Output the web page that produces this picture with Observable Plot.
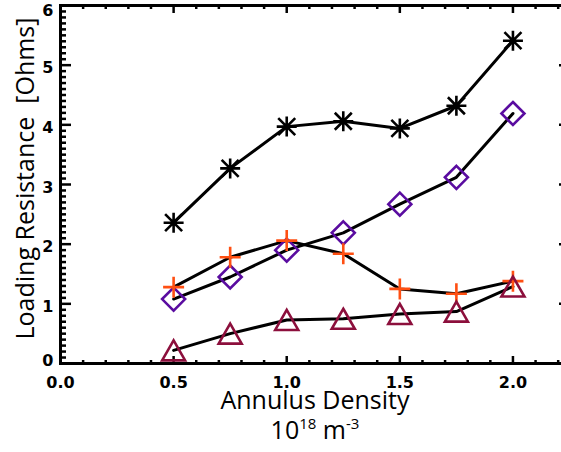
<!DOCTYPE html>
<html><head><meta charset="utf-8">
<script src="https://cdn.jsdelivr.net/npm/d3@7"></script>
<script src="https://cdn.jsdelivr.net/npm/@observablehq/plot@0.6"></script>
<style>html,body{margin:0;padding:0;background:#fff;overflow:hidden}</style>
</head><body><div id="chart"></div>
<script>
// ---- data ----
const density = [0.5, 0.75, 1.0, 1.25, 1.5, 1.75, 2.0];
const starVals     = [2.36, 3.27, 3.97, 4.06, 3.94, 4.32, 5.41];
const diamondVals  = [1.08, 1.45, 1.90, 2.19, 2.67, 3.12, 4.19];
const crossVals    = [1.28, 1.78, 2.06, 1.84, 1.25, 1.17, 1.38];
const triangleVals = [0.22, 0.50, 0.73, 0.75, 0.83, 0.87, 1.29];
const xMajor = [0, 0.5, 1.0, 1.5, 2.0];
const xMinor = [0.1,0.2,0.3,0.4,0.6,0.7,0.8,0.9,1.1,1.2,1.3,1.4,1.6,1.7,1.8,1.9,2.1,2.2];
const yMajor = [0, 1, 2, 3, 4, 5, 6];
const yMinor = d3.range(0, 60).filter(i => i % 10 !== 0).map(i => i / 10);
const xTitle = "Annulus Density";
const unitParts = ["10", "18", " m", "-3"];
const yTitle = "Loading Resistance  [Ohms]";

const rows = density.map((x, i) => ({x, star: starVals[i], diamond: diamondVals[i], cross: crossVals[i], tri: triangleVals[i]}));

// ---- custom IDL-like symbols ----
const sym = fn => ({draw(c, size) { fn(c, Math.sqrt(size / Math.PI)); }});
const asterisk = sym((c, r) => {
  c.moveTo(-r, 0); c.lineTo(r, 0); c.moveTo(0, -r); c.lineTo(0, r);
  const d = r * 0.85;
  c.moveTo(-d, -d); c.lineTo(d, d); c.moveTo(-d, d); c.lineTo(d, -d);
});
const plus = sym((c, r) => { c.moveTo(-r, 0); c.lineTo(r, 0); c.moveTo(0, -r); c.lineTo(0, r); });
const diamond = sym((c, r) => { c.moveTo(0, -r); c.lineTo(r, 0); c.lineTo(0, r); c.lineTo(-r, 0); c.closePath(); });
const triangle = sym((c, r) => { c.moveTo(0, -r * 0.87); c.lineTo(r, r * 0.87); c.lineTo(-r, r * 0.87); c.closePath(); });

const series = [
  {key: "star", symbol: asterisk, color: "#000000", r: 10},
  {key: "diamond", symbol: diamond, color: "#5a0ca0", r: 11.5},
  {key: "cross", symbol: plus, color: "#ff4f12", r: 10.5},
  {key: "tri", symbol: triangle, color: "#8c0f3c", r: 11.5}
];

const tickFont = {fontFamily: "DejaVu Sans", fontWeight: "bold", fontSize: 16, fill: "black"};
const titleFont = {fontSize: 25, fontFamily: "Open Sans", fill: "black", textAnchor: "middle", lineAnchor: "middle"};
const yLabelOpts = {anchor: "left", tickSize: 0, tickPadding: 7, tickFormat: d3.format("d"), label: null, ...tickFont};

const chart = Plot.plot({
  width: 561, height: 452,
  marginLeft: 60, marginRight: -8, marginTop: 5, marginBottom: 89,
  x: {domain: [0, 2.25], axis: null},
  y: {domain: [0, 6], axis: null},
  style: {background: "white", color: "black"},
  marks: [
    // inward ticks
    Plot.axisY(yMinor, {anchor: "right", frameAnchor: "left", tickSize: 5, strokeWidth: 2.5, fill: "none", label: null}),
    Plot.axisY(yMajor, {anchor: "right", frameAnchor: "left", tickSize: 10, strokeWidth: 2.5, fill: "none", label: null}),
    Plot.axisY(yMinor, {anchor: "left", frameAnchor: "right", tickSize: 5, strokeWidth: 2.5, fill: "none", label: null}),
    Plot.axisY(yMajor, {anchor: "left", frameAnchor: "right", tickSize: 10, strokeWidth: 2.5, fill: "none", label: null}),
    Plot.axisX(xMinor, {anchor: "top", frameAnchor: "bottom", tickSize: 4, strokeWidth: 2.5, fill: "none", label: null}),
    Plot.axisX(xMajor, {anchor: "top", frameAnchor: "bottom", tickSize: 8, strokeWidth: 2.5, fill: "none", label: null}),
    Plot.axisX(xMinor, {anchor: "bottom", frameAnchor: "top", tickSize: 4, strokeWidth: 2.5, fill: "none", label: null}),
    Plot.axisX(xMajor, {anchor: "bottom", frameAnchor: "top", tickSize: 8, strokeWidth: 2.5, fill: "none", label: null}),
    // tick labels
    Plot.axisY(yMajor.slice(1, -1), {...yLabelOpts, dy: 3}),
    Plot.axisY(yMajor.slice(0, 1), {...yLabelOpts, dy: -3}),
    Plot.axisY(yMajor.slice(-1), {...yLabelOpts, dy: 5}),
    Plot.axisX(xMajor, {anchor: "bottom", tickSize: 0, tickPadding: 13, tickFormat: d3.format(".1f"), label: null, ...tickFont}),
    Plot.frame({stroke: "black", strokeWidth: 3}),
    // data
    ...series.map(s => Plot.line(rows, {x: "x", y: s.key, stroke: "black", strokeWidth: 3})),
    ...series.map(s => Plot.dot(rows, {x: "x", y: s.key, symbol: s.symbol, r: s.r, stroke: s.color, strokeWidth: 2.6, fill: "none"})),
    // titles
    Plot.text([xTitle], {frameAnchor: "bottom", dy: 37, ...titleFont}),
    Plot.text([unitParts.join("")], {frameAnchor: "bottom", dy: 67, ...titleFont}),
    Plot.text([yTitle], {frameAnchor: "left", rotate: -90, dx: -35, dy: -6, ...titleFont})
  ]
});

// superscripts in the unit label
d3.select(chart).selectAll("text").filter(function() { return this.textContent === unitParts.join(""); })
  .each(function() {
    const t = d3.select(this);
    t.text(null);
    t.append("tspan").text(unitParts[0]);
    t.append("tspan").attr("dy", -10).attr("font-size", 15).text(unitParts[1]);
    t.append("tspan").attr("dy", 10).text(unitParts[2]);
    t.append("tspan").attr("dy", -10).attr("font-size", 15).text(unitParts[3]);
  });

document.getElementById("chart").appendChild(chart);
</script>
</body></html>
